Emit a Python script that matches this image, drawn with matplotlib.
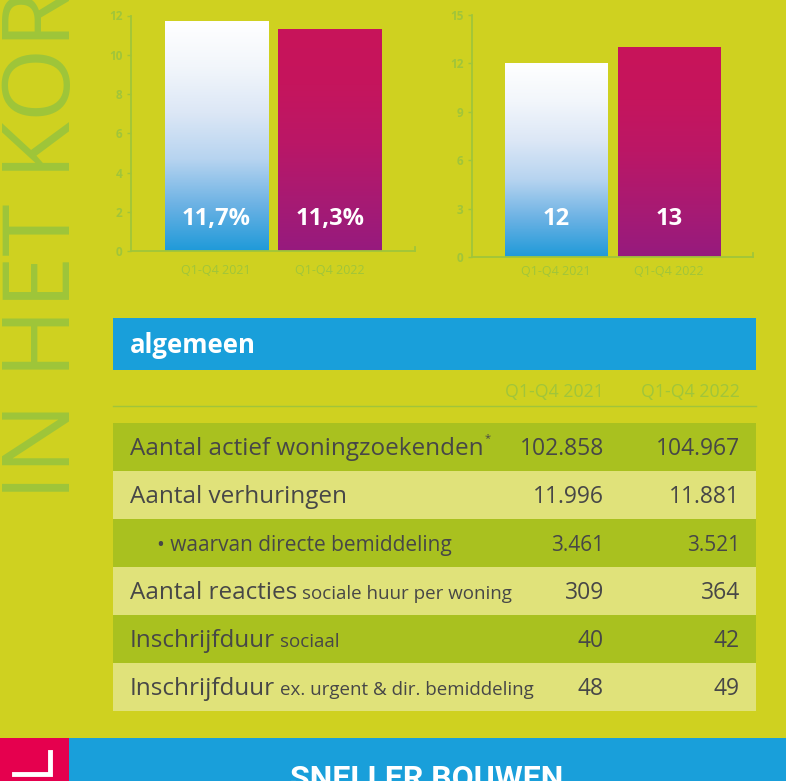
import matplotlib
matplotlib.use('Agg')
import matplotlib.pyplot as plt
import numpy as np
from matplotlib.colors import LinearSegmentedColormap

# --- data -------------------------------------------------------------
categories = ['Q1-Q4 2021', 'Q1-Q4 2022']
pct_values = [11.7, 11.3]
pct_labels = ['11,7%', '11,3%']
pct_ticks = [0, 2, 4, 6, 8, 10, 12]
count_values = [12, 13]
count_labels = ['12', '13']
count_ticks = [0, 3, 6, 9, 12, 15]

row_labels = ['Aantal actief woningzoekenden', 'Aantal verhuringen',
              '• waarvan directe bemiddeling', 'Aantal reacties',
              'Inschrijfduur', 'Inschrijfduur']
row_notes = ['*', '', '', 'sociale huur per woning', 'sociaal',
             'ex. urgent & dir. bemiddeling']
col_2021 = ['102.858', '11.996', '3.461', '309', '40', '48']
col_2022 = ['104.967', '11.881', '3.521', '364', '42', '49']

# --- style ------------------------------------------------------------
W, H = 786, 781
BG = '#cfd120'
LIME = '#a0c53a'
DARK_ROW = '#a9c11f'
LIGHT_ROW = '#e0e27a'
BLUE = '#199fda'
PINK = '#e5004e'
GREY = '#474747'
blue_grad = ['#1f9ad9', '#6cb2e4', '#b7d4f0', '#dce7f6', '#f2f6fb', '#ffffff']
red_grad = ['#961b7e', '#a91a72', '#bb1766', '#c5155d', '#c8145a']

plt.rcParams['font.family'] = ['Open Sans', 'DejaVu Sans']

fig = plt.figure(figsize=(W / 100, H / 100), dpi=100)
fig.patch.set_facecolor(BG)


def rect(l, t, r, b):
    return [l / W, 1 - b / H, (r - l) / W, (b - t) / H]


# overlay in pixel coordinates for the table / decorations
ov = fig.add_axes([0, 0, 1, 1], zorder=0)
ov.set_xlim(0, W)
ov.set_ylim(H, 0)
ov.axis('off')
ov.set_facecolor('none')


def gradient_fill(ax, bar, colors):
    x0, y0 = bar.get_xy()
    w, h = bar.get_width(), bar.get_height()
    cmap = LinearSegmentedColormap.from_list('g', colors)
    grad = np.linspace(0, 1, 256).reshape(-1, 1)
    im = ax.imshow(grad, extent=[x0, x0 + w, y0, y0 + h], origin='lower',
                   cmap=cmap, aspect='auto', zorder=2)
    im.set_clip_path(bar)


def bar_chart(box, values, labels, ticks, label_y, pad):
    ax = fig.add_axes(box, zorder=2)
    ax.set_facecolor('none')
    x = np.arange(len(values))
    bars = ax.bar(x, values, width=0.91, color='none', edgecolor='none', zorder=1)
    for bar, cols in zip(bars, [blue_grad, red_grad]):
        gradient_fill(ax, bar, cols)
    for xi, lab in zip(x, labels):
        ax.text(xi, label_y, lab, ha='center', va='center', color='white',
                fontsize=17, fontweight='bold', zorder=3)
    ax.set_xlim(-0.75, 1.75)
    ax.set_ylim(0, ticks[-1])
    ax.set_yticks(ticks)
    ax.set_xticks(x)
    ax.set_xticklabels(categories)
    for s in ['top', 'right']:
        ax.spines[s].set_visible(False)
    for s in ['left', 'bottom']:
        ax.spines[s].set_color(LIME)
        ax.spines[s].set_linewidth(1.3)
    ax.tick_params(axis='y', colors=LIME, length=3, width=1, labelsize=8.5, pad=3)
    for t in ax.get_yticklabels():
        t.set_fontweight('bold')
    ax.tick_params(axis='x', length=0, colors=LIME, labelsize=9, pad=pad)
    ax.plot([1, 1], [0, 0.018], transform=ax.transAxes, color=LIME,
            lw=1.3, clip_on=False)
    return ax


bar_chart(rect(131, 15.5, 415, 251), pct_values, pct_labels, pct_ticks, 1.65, 9)
bar_chart(rect(472, 15, 753, 257), count_values, count_labels, count_ticks, 2.35, 6)

# vertical title
ov.text(70, 500, 'IN HET KORT', rotation=90, rotation_mode='anchor',
        ha='left', va='baseline', fontsize=68, color='#9ec53a')

# table header
ov.add_patch(plt.Rectangle((113, 318), 643, 52, color=BLUE, lw=0))
ov.text(130, 353, 'algemeen', color='white', fontsize=18.5, fontweight='bold',
        va='baseline')
ov.text(604, 397, categories[0], color=LIME, fontsize=12.8, ha='right', va='baseline')
ov.text(740, 397, categories[1], color=LIME, fontsize=12.8, ha='right', va='baseline')
ov.plot([113, 756], [406, 406], color=LIME, lw=1)

renderer = fig.canvas.get_renderer()
row_top, row_h = 423, 48
for i, (lab, note, v1, v2) in enumerate(zip(row_labels, row_notes, col_2021, col_2022)):
    top = row_top + i * row_h
    ov.add_patch(plt.Rectangle((113, top), 643, row_h,
                               color=DARK_ROW if i % 2 == 0 else LIGHT_ROW, lw=0))
    base = top + row_h / 2 + 8
    small = lab.startswith('•')
    fs = 15 if small else 17.5
    x0 = 157 if small else 130
    t = ov.text(x0, base, lab, color=GREY, fontsize=fs, va='baseline')
    if note:
        bb = t.get_window_extent(renderer)
        xe = ov.transData.inverted().transform((bb.x1, bb.y0))[0]
        if note == '*':
            ov.text(xe + 1, base - 14, note, color=GREY, fontsize=8, va='baseline')
        else:
            ov.text(xe + 5, base, note, color=GREY, fontsize=13.5, va='baseline')
    nfs = 15 if small else 16.5
    ov.text(604, base, v1, color=GREY, fontsize=nfs, ha='right', va='baseline')
    ov.text(740, base, v2, color=GREY, fontsize=nfs, ha='right', va='baseline')

# bottom banner
ov.add_patch(plt.Rectangle((0, 738), 69, 43, color=PINK, lw=0))
ov.add_patch(plt.Rectangle((69, 738), W - 69, 43, color=BLUE, lw=0))
ov.plot([14, 50, 50], [774, 774, 752], color='white', lw=3.5,
        solid_joinstyle='miter')
ov.text(427, 764, 'SNELLER BOUWEN', color='white', fontsize=23, fontweight='bold',
        ha='center', va='top', family=['Roboto', 'DejaVu Sans'])

fig.savefig('out.png', dpi=100, facecolor=BG)
